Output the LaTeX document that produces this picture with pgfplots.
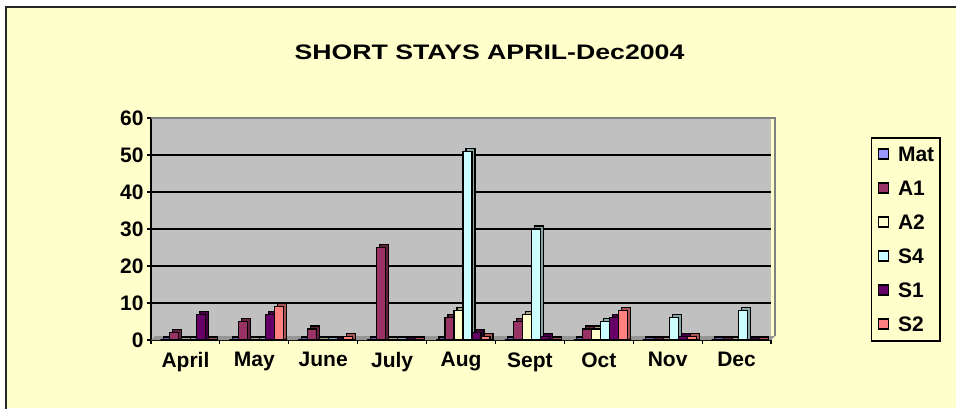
\documentclass[border=0pt]{standalone}
\usepackage{fontspec}
\setmainfont{Liberation Sans}
\usepackage{graphicx}
\usepackage{pgfplots}
\pgfplotsset{compat=1.18}
\usepackage{pgfplotstable}

\definecolor{cream}{HTML}{FFFFCC}
\definecolor{wallgray}{HTML}{C0C0C0}
\definecolor{floorgray}{HTML}{959595}
\definecolor{wallborder}{HTML}{808080}
\definecolor{cMat}{HTML}{9999FF}
\definecolor{cA1}{HTML}{993366}
\definecolor{cA2}{HTML}{FFFFCC}
\definecolor{cS4}{HTML}{CCFFFF}
\definecolor{cS1}{HTML}{660066}
\definecolor{cS2}{HTML}{FF8080}

\pgfplotstableread{
idx Mat A1 A2 S4 S1 S2
0 0 2 0 0 7 0
1 0 5 0 0 7 9
2 0 3 0 0 0 1
3 0 25 0 0 0 0
4 0 6 8 51 2 1
5 0 5 7 30 1 0
6 0 3 3 5 6 8
7 0 0 0 6 1 1
8 0 0 0 8 0 0
}\data

\pgfplotsset{
  sqlegend/.style={legend image code/.code={\draw[##1,line width=1.5pt] (0pt,-4.5pt) rectangle (10pt,5.5pt);}},
  front/.style={draw=black, line width=1.2pt, fill=#1, sqlegend},
  shade/.style={draw=black, line width=1.2pt, fill=#1!65!black, forget plot},
}

\begin{document}
\begin{tikzpicture}
\useasboundingbox (0,0) rectangle (956pt,-408pt);
\fill[white] (0,0) rectangle (956pt,-408pt);
\fill[cream] (6pt,-7pt) rectangle (956pt,-408pt);
\draw[black!85, line width=1.6pt] (6pt,-410pt) -- (6pt,-7pt) -- (958pt,-7pt);
\node[font=\bfseries\fontsize{21}{25}\selectfont, inner sep=0pt] at (489.5pt,-52.5pt) {\scalebox{1.27}[1]{SHORT STAYS APRIL-Dec2004}};
\begin{axis}[
  at={(151pt,-340pt)}, anchor=south west,
  scale only axis, width=620pt, height=222pt,
  xmin=-0.5, xmax=8.5, ymin=0, ymax=60,
  axis background/.style={fill=wallgray},
  axis x line*=bottom, axis y line*=left,
  axis line style={black, line width=1.5pt},
  ytick={0,10,...,60},
  ymajorgrids, grid style={black, line width=1.5pt},
  tick align=outside, major tick length=4pt,
  tick style={black, line width=1.2pt},
  xtick={-0.5,0.5,...,8.5}, xticklabels={},
  extra x ticks={0,1,...,8},
  extra x tick labels={April,May,June,July,Aug,Sept,Oct,Nov,Dec},
  extra x tick style={major tick length=0pt, grid=none, xticklabel style={yshift=-9pt}},
  tick label style={font=\bfseries\fontsize{21}{25}\selectfont},
  /pgf/number format/assume math mode=true,
  clip=false,
  ybar, bar width=9pt,
  legend cell align=left,
  legend style={at={(1.161,0.914)}, anchor=north west, draw=black, line width=1.5pt,
    fill=cream, font=\bfseries\fontsize{21}{25}\selectfont,
    inner xsep=6pt, inner ysep=9pt, row sep=19pt,
    nodes={inner sep=0pt, text height=15pt, text depth=0pt},
    /tikz/every odd column/.append style={column sep=9pt}},
]
\fill[floorgray] (rel axis cs:0,0) -- (rel axis cs:1,0) -- ([shift={(4pt,4pt)}]rel axis cs:1,0) -- ([shift={(4pt,4pt)}]rel axis cs:0,0) -- cycle;

\addplot[shade=cMat, bar shift=-17.5pt] table[x=idx, y expr=\thisrow{Mat}+0.8]{\data};
\addplot[front=cMat, bar shift=-20.5pt] table[x=idx, y=Mat]{\data};
\addlegendentry{Mat}
\addplot[shade=cA1, bar shift=-8.5pt] table[x=idx, y expr=\thisrow{A1}+0.8]{\data};
\addplot[front=cA1, bar shift=-11.5pt] table[x=idx, y=A1]{\data};
\addlegendentry{A1}
\addplot[shade=cA2, bar shift=0.5pt] table[x=idx, y expr=\thisrow{A2}+0.8]{\data};
\addplot[front=cA2, bar shift=-2.5pt] table[x=idx, y=A2]{\data};
\addlegendentry{A2}
\addplot[shade=cS4, bar shift=9.5pt] table[x=idx, y expr=\thisrow{S4}+0.8]{\data};
\addplot[front=cS4, bar shift=6.5pt] table[x=idx, y=S4]{\data};
\addlegendentry{S4}
\addplot[shade=cS1, bar shift=18.5pt] table[x=idx, y expr=\thisrow{S1}+0.8]{\data};
\addplot[front=cS1, bar shift=15.5pt] table[x=idx, y=S1]{\data};
\addlegendentry{S1}
\addplot[shade=cS2, bar shift=27.5pt] table[x=idx, y expr=\thisrow{S2}+0.8]{\data};
\addplot[front=cS2, bar shift=24.5pt] table[x=idx, y=S2]{\data};
\addlegendentry{S2}

\draw[wallborder, line width=1.5pt] (rel axis cs:0,1) -- ([xshift=4pt]rel axis cs:1,1) -- ([shift={(4pt,4pt)}]rel axis cs:1,0);
\end{axis}
\end{tikzpicture}
\end{document}
